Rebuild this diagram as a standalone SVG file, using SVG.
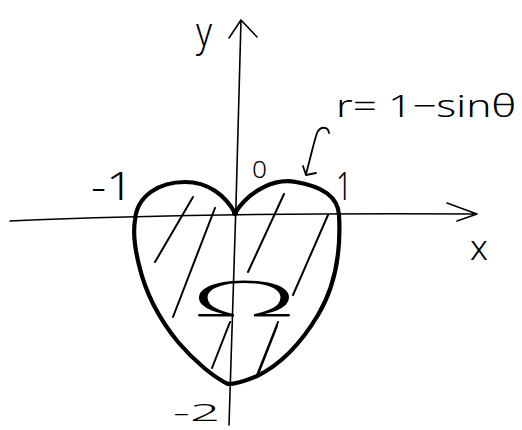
<svg xmlns="http://www.w3.org/2000/svg" width="522" height="430" viewBox="0 0 522 430">
<defs>
<style>
.ax{fill:none;stroke:#000;stroke-width:1.6;stroke-linecap:round;stroke-linejoin:round}
.curve{fill:none;stroke:#000;stroke-width:4.2;stroke-linejoin:round}
.hatch{fill:none;stroke:#000;stroke-width:2;stroke-linecap:round}
.lbl{font-family:"Noto Sans","DejaVu Sans",sans-serif;font-weight:300;fill:#000}
</style>
</defs>
<rect width="522" height="430" fill="#fff"/>
<g id="connectors">
<path id="x-axis" class="ax" d="M10,221 C120,216 300,213 477,214 M447,203 L477,214 L457,221"/>
<path id="y-axis" class="ax" d="M229,425 C233,300 238,150 241,20 M229,38 L241,20 L257,37"/>
<path id="pointer" class="ax" d="M329,133 C328,126 320,126 317,133 C313,145 310,160 306,174 M303,166 L306,175 L316,173" style="stroke-width:1.8"/>
</g>
<g id="region">
<path class="hatch" d="M193,197 L155,262 M215,208 L173,317 M284,194 L248,272 M328,215 L293,295 M230,322 L212,368 M278,322 L257,375 M277,326 L259,372"/>
</g>
<g id="cardioid">
<path class="curve" d="M235,213 C250,190 275,178 296,182 C320,186 338,195 339,215 C341,250 336,285 318,315 C300,345 280,365 257,376 C245,381 236,384 228,384 C215,378 195,362 178,342 C160,320 146,295 139,265 C134,245 133,232 135,220 C137,195 160,182 185,182 C208,182 225,195 235,213 Z"/>
<circle cx="235" cy="213" r="3"/>
</g>
<g id="labels">
<text class="lbl" x="196" y="46" font-size="40" textLength="16" lengthAdjust="spacingAndGlyphs">y</text>
<text class="lbl" x="470" y="260" font-size="34" textLength="18" lengthAdjust="spacingAndGlyphs">x</text>
<text class="lbl" x="336" y="117" font-size="32" textLength="180" lengthAdjust="spacingAndGlyphs">r= 1−sinθ</text>
<text class="lbl" x="252" y="178" font-size="24" textLength="15" lengthAdjust="spacingAndGlyphs">0</text>
<text class="lbl" x="91" y="200" font-size="38" textLength="42" lengthAdjust="spacingAndGlyphs">-1</text>
<text class="lbl" x="336" y="200" font-size="38" textLength="16" lengthAdjust="spacingAndGlyphs">1</text>
<text class="lbl" x="173" y="421" font-size="24" textLength="47" lengthAdjust="spacingAndGlyphs">-2</text>
<text class="lbl" x="195" y="317" font-size="50" textLength="98" lengthAdjust="spacingAndGlyphs">Ω</text>
</g>
</svg>
